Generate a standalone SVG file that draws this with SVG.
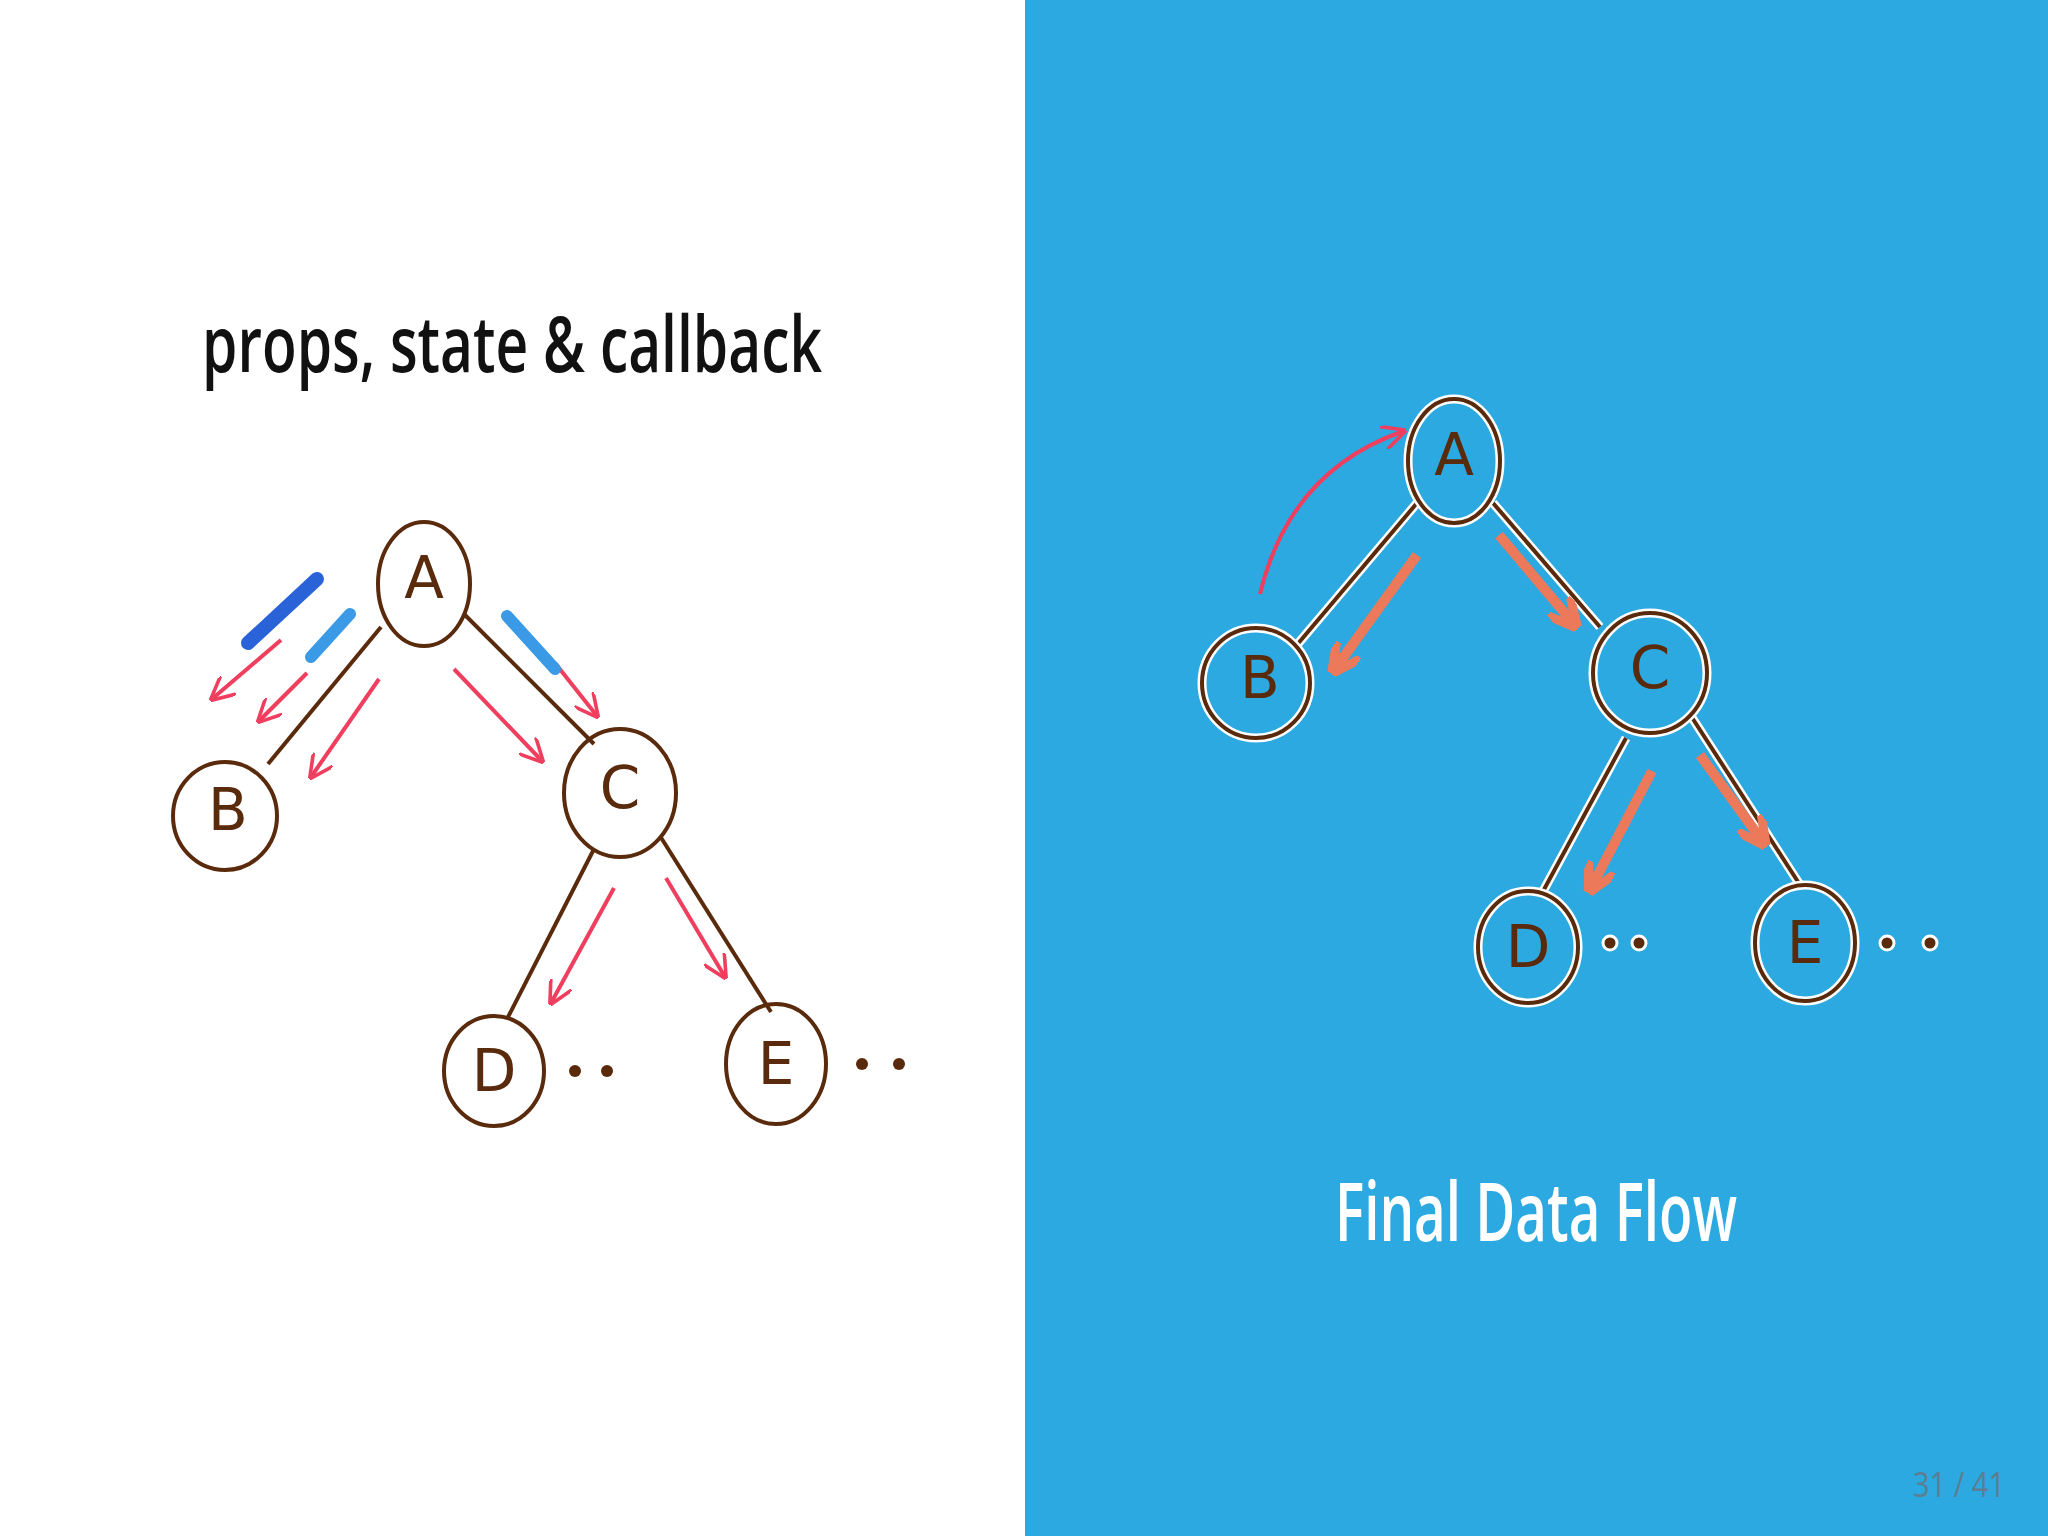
<svg xmlns="http://www.w3.org/2000/svg" width="2048" height="1536" viewBox="0 0 2048 1536">
<defs>
<style>
.node{fill:none;stroke:#5a2a0c;stroke-width:4}
.halo{fill:none;stroke:#fff;stroke-width:9}
.lbl{font-family:"DejaVu Sans",sans-serif;font-size:58px;fill:#5a2a0c;text-anchor:middle;dominant-baseline:central}
.edge{stroke:#5a2a0c;stroke-width:4;fill:none}
.edgeh{stroke:#fff;stroke-width:9;fill:none}
.red{stroke:#ef3e5e;stroke-width:4;fill:none;marker-end:url(#hr)}
.org{stroke:#ec7a5a;stroke-width:10;fill:none;marker-end:url(#ho)}
.dot{fill:#5a2a0c}
</style>
<marker id="hr" viewBox="0 0 10 10" refX="9" refY="5" markerWidth="6" markerHeight="6" orient="auto"><path d="M0,0 L10,5 L0,10" fill="none" stroke="#ef3e5e" stroke-width="1.5"/></marker>
<marker id="ho" viewBox="0 0 10 10" refX="8" refY="5" markerWidth="3" markerHeight="3" orient="auto"><path d="M0,0 L10,5 L0,10" fill="none" stroke="#ec7a5a" stroke-width="3"/></marker>
</defs>
<rect x="0" y="0" width="1025" height="1536" fill="#ffffff"/>
<rect x="1025" y="0" width="1023" height="1536" fill="#2ba9e0"/>
<text x="202" y="372" font-family="Open Sans,sans-serif" font-weight="600" font-size="78" textLength="620" lengthAdjust="spacingAndGlyphs" fill="#111">props, state &amp; callback</text>
<text x="1335" y="1241" font-family="Open Sans,sans-serif" font-weight="600" font-size="82" textLength="402" lengthAdjust="spacingAndGlyphs" fill="#fff">Final Data Flow</text>
<text x="1913" y="1497" font-family="Open Sans,sans-serif" font-size="34" textLength="92" lengthAdjust="spacingAndGlyphs" fill="#5d7d90">31 / 41</text>
<g id="connectors">
<path class="edge" d="M381,627 L268,764"/>
<path class="edge" d="M464,614 L594,744"/>
<path class="edge" d="M594,849 L507,1019"/>
<path class="edge" d="M660,836 L771,1012"/>
<path class="red" d="M379,679 L311,777"/>
<path class="red" d="M454,669 L542,761"/>
<path class="red" d="M614,888 L551,1003"/>
<path class="red" d="M666,878 L725,977"/>
<path class="red" d="M281,640 L212,699"/>
<path class="red" d="M307,673 L259,721"/>
<path class="red" d="M555,663 L597,716"/>
<path d="M317,579 L248,643" stroke="#2a62d8" stroke-width="14" stroke-linecap="round"/>
<path d="M350,614 L311,657" stroke="#3a9ae6" stroke-width="12" stroke-linecap="round"/>
<path d="M507,616 L555,669" stroke="#3a9ae6" stroke-width="12" stroke-linecap="round"/>
<path class="edgeh" d="M1417,503 L1296,646 M1493,503 L1600,627 M1626,738 L1541,895 M1691,716 L1802,888"/>
<path class="edge" d="M1417,503 L1296,646 M1493,503 L1600,627 M1626,738 L1541,895 M1691,716 L1802,888"/>
<path class="org" d="M1417,555 L1335,669"/>
<path class="org" d="M1499,535 L1574,624"/>
<path class="org" d="M1652,771 L1591,888"/>
<path class="org" d="M1700,755 L1763,842"/>
<path class="red" d="M1260,594 Q1290,470 1404,431" stroke-width="5"/>
</g>
<g id="A"><ellipse class="node" cx="424" cy="584" rx="46" ry="62"/><text class="lbl" x="424" y="578">A</text></g>
<g id="B"><ellipse class="node" cx="225" cy="816" rx="52" ry="54"/><text class="lbl" x="228" y="810">B</text></g>
<g id="C"><ellipse class="node" cx="620" cy="793" rx="56" ry="64"/><text class="lbl" x="620" y="788">C</text></g>
<g id="D"><ellipse class="node" cx="494" cy="1071" rx="50" ry="55"/><text class="lbl" x="494" y="1071">D</text><circle class="dot" cx="575" cy="1071" r="6"/><circle class="dot" cx="607" cy="1071" r="6"/></g>
<g id="E"><ellipse class="node" cx="776" cy="1064" rx="50" ry="60"/><text class="lbl" x="776" y="1064">E</text><circle class="dot" cx="862" cy="1064" r="6"/><circle class="dot" cx="899" cy="1064" r="6"/></g>
<g id="A2"><ellipse class="halo" cx="1454" cy="461" rx="46" ry="62"/><ellipse class="node" cx="1454" cy="461" rx="46" ry="62"/><text class="lbl" x="1454" y="455">A</text></g>
<g id="B2"><ellipse class="halo" cx="1256" cy="683" rx="54" ry="55"/><ellipse class="node" cx="1256" cy="683" rx="54" ry="55"/><text class="lbl" x="1260" y="678">B</text></g>
<g id="C2"><ellipse class="halo" cx="1650" cy="673" rx="57" ry="60"/><ellipse class="node" cx="1650" cy="673" rx="57" ry="60"/><text class="lbl" x="1650" y="668">C</text></g>
<g id="D2"><ellipse class="halo" cx="1528" cy="947" rx="50" ry="56"/><ellipse class="node" cx="1528" cy="947" rx="50" ry="56"/><text class="lbl" x="1528" y="947">D</text><circle class="dot" cx="1610" cy="943" r="7" stroke="#fff" stroke-width="3"/><circle class="dot" cx="1639" cy="943" r="7" stroke="#fff" stroke-width="3"/></g>
<g id="E2"><ellipse class="halo" cx="1805" cy="943" rx="50" ry="58"/><ellipse class="node" cx="1805" cy="943" rx="50" ry="58"/><text class="lbl" x="1805" y="943">E</text><circle class="dot" cx="1887" cy="943" r="7" stroke="#fff" stroke-width="3"/><circle class="dot" cx="1930" cy="943" r="7" stroke="#fff" stroke-width="3"/></g>
</svg>
